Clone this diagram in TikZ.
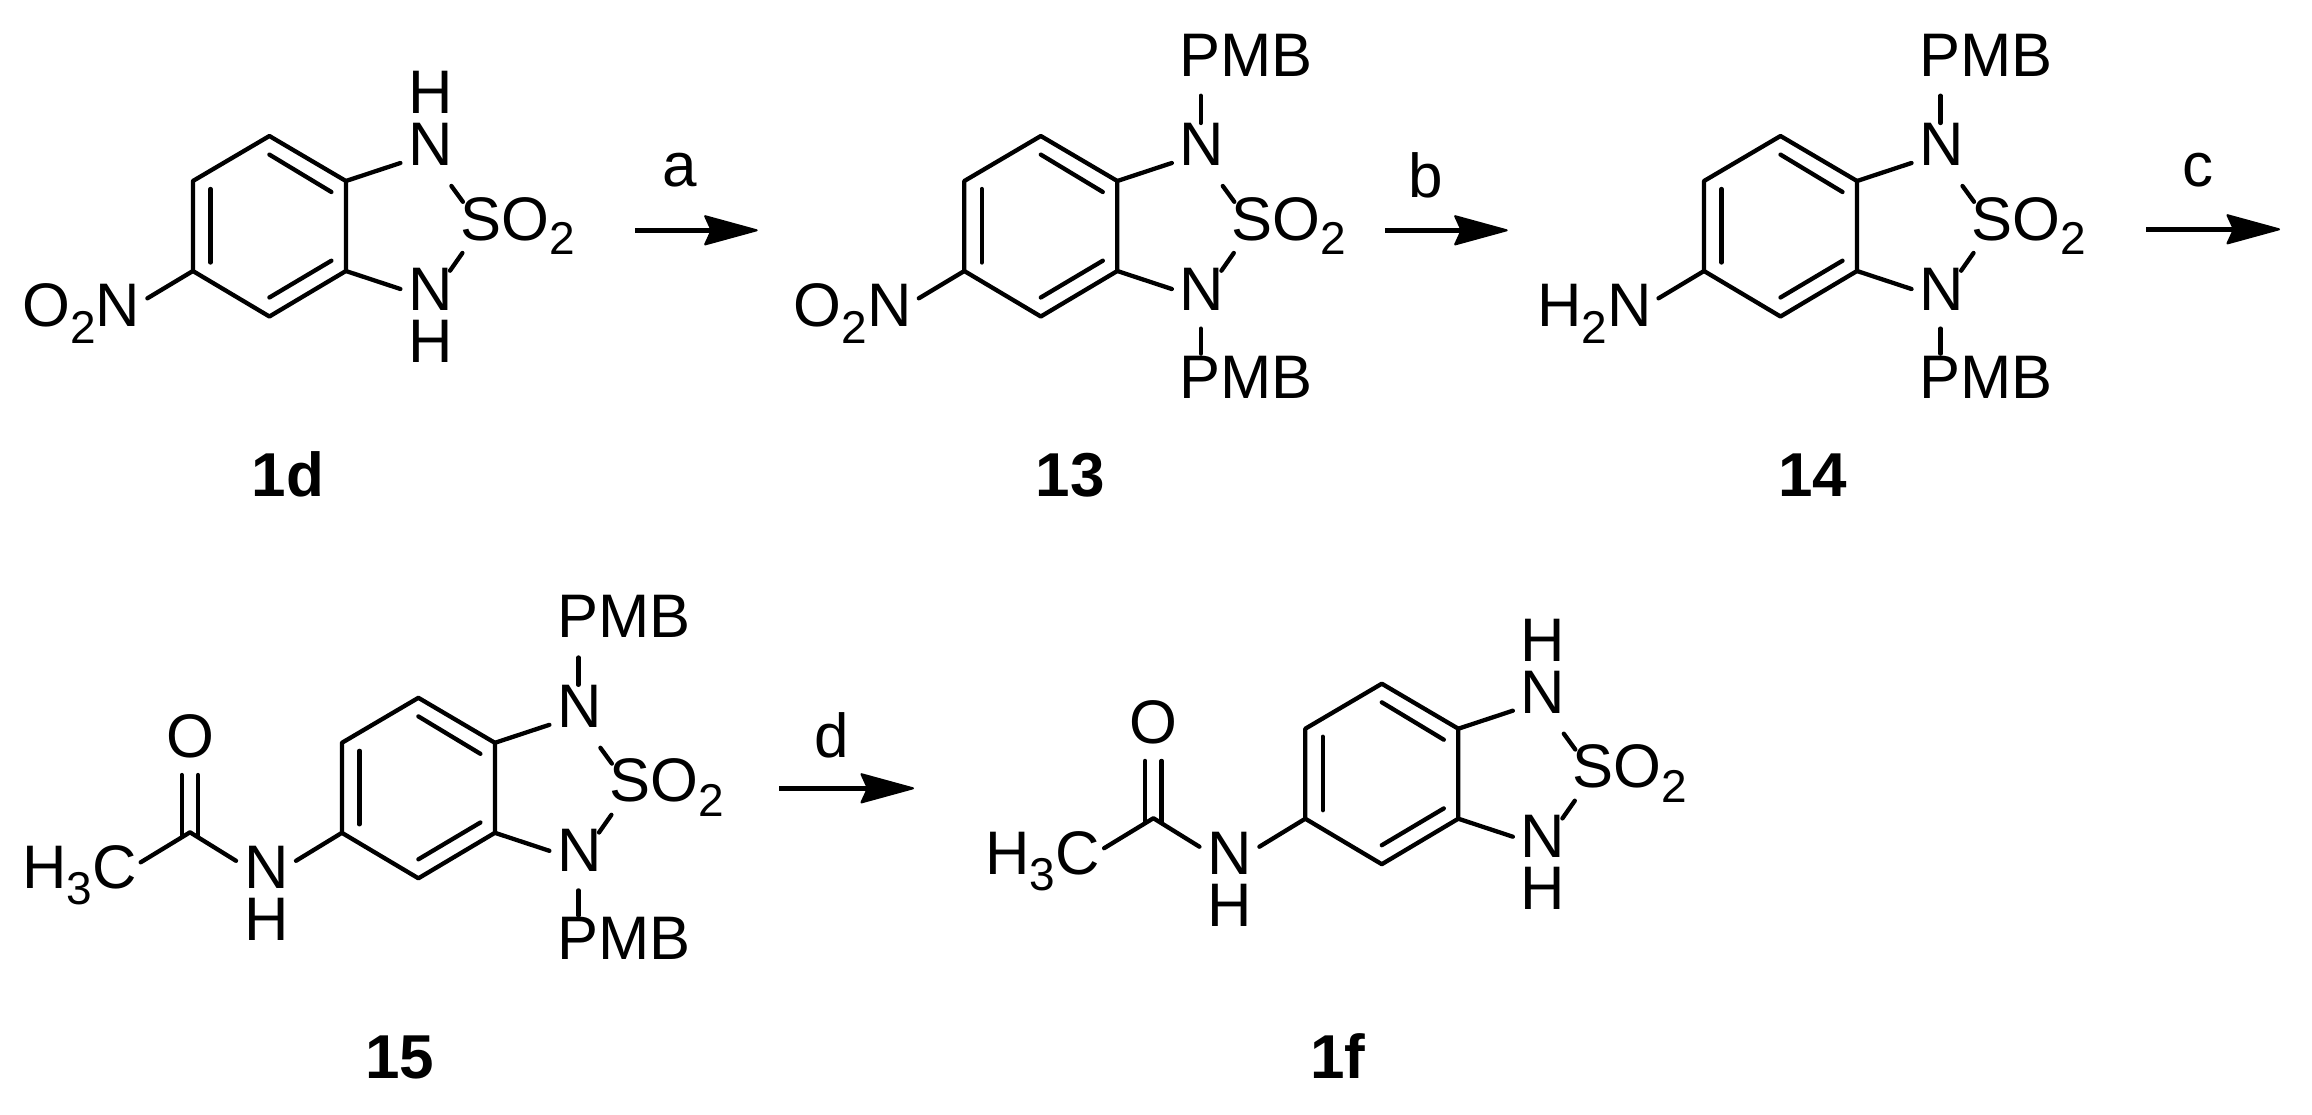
\documentclass[tikz,border=0pt]{standalone}
\usepackage{fontspec}
\setmainfont{Liberation Sans}
\usetikzlibrary{arrows.meta}
\newcommand{\subdigit}[2][16.5pt]{\raisebox{-#1}{\fontsize{46}{46}\selectfont #2}}
\tikzset{
  x=1pt,y=-1pt,
  bondline/.style={line width=4.3pt,line cap=round,line join=round,black},
  atomlabel/.style={inner sep=0pt,outer sep=0pt,font=\fontsize{61.5}{62}\selectfont},
  cmpdlabel/.style={inner sep=0pt,outer sep=0pt,anchor=base,font=\fontsize{62}{62}\selectfont\bfseries},
  reagent/.style={inner sep=0pt,outer sep=0pt,anchor=base,font=\fontsize{62}{62}\selectfont},
  rxnarrow/.style={line width=5pt,-{Stealth[length=57pt,width=31pt,inset=7pt,round,line width=2pt]}}
}
% ring + five-membered-ring core; #1 prefix, #2 x, #3 y of top ring atom
\newcommand{\corering}[3]{%
  \begin{scope}[shift={(#2,#3)}]
    \coordinate (#1t) at (0,0);
    \coordinate (#1ur) at (76.5,45);
    \coordinate (#1lr) at (76.5,135);
    \coordinate (#1b) at (0,180.5);
    \coordinate (#1ll) at (-76.5,135);
    \coordinate (#1ul) at (-76.5,45);
    \draw[bondline] (#1t) -- (#1ur) -- (#1lr) -- (#1b) -- (#1ll) -- (#1ul) -- cycle;
    \coordinate (#1i1) at (0,18.6); \coordinate (#1i2) at (62,56);
    \coordinate (#1i3) at (62,124.7); \coordinate (#1i4) at (0,161.5);
    \coordinate (#1i5) at (-59,53); \coordinate (#1i6) at (-59,126.5);
    \draw[bondline] (#1i1) -- (#1i2);
    \draw[bondline] (#1i3) -- (#1i4);
    \draw[bondline] (#1i5) -- (#1i6);
    \node[atomlabel,anchor=base] (#1Nu) at (161,29.7) {N};
    \node[atomlabel,anchor=base] (#1Nd) at (161,174) {N};
    \node[atomlabel,anchor=base west] (#1S) at (191,104) {SO\subdigit[14.5pt]{2}};
    \coordinate (#1a1) at (131,27); \coordinate (#1a2) at (131,153);
    \coordinate (#1a3) at (182,50); \coordinate (#1a4) at (193.5,65.8);
    \coordinate (#1a5) at (193,117); \coordinate (#1a6) at (180.6,134.7);
    \draw[bondline] (#1ur) -- (#1a1);
    \draw[bondline] (#1lr) -- (#1a2);
    \draw[bondline] (#1a3) -- (#1a4);
    \draw[bondline] (#1a5) -- (#1a6);
  \end{scope}}
\newcommand{\nhcaps}[3]{%
  \begin{scope}[shift={(#2,#3)}]
    \node[atomlabel,anchor=base] (#1Hu) at (161,-22.6) {H};
    \node[atomlabel,anchor=base] (#1Hd) at (161,226) {H};
  \end{scope}}
\newcommand{\pmbcaps}[3]{%
  \begin{scope}[shift={(#2,#3)}]
    \node[atomlabel,anchor=base west] (#1Pu) at (138.7,-60) {PMB};
    \node[atomlabel,anchor=base west] (#1Pd) at (138.7,262) {PMB};
    \coordinate (#1p1) at (160,-40.3); \coordinate (#1p2) at (160,-13);
    \coordinate (#1p3) at (160,192.6); \coordinate (#1p4) at (160,217.6);
    \draw[bondline] (#1p1) -- (#1p2);
    \draw[bondline] (#1p3) -- (#1p4);
  \end{scope}}
\newcommand{\leftgroup}[4]{% #4 text
  \begin{scope}[shift={(#2,#3)}]
    \node[atomlabel,anchor=base east] (#1X) at (-129,190.7) {#4};
    \coordinate (#1x1) at (-122,162.3);
    \draw[bondline] (#1ll) -- (#1x1);
  \end{scope}}
\newcommand{\acetamide}[3]{%
  \begin{scope}[shift={(#2,#3)}]
    \node[atomlabel,anchor=base] (#1N) at (-151.7,190.5) {N};
    \node[atomlabel,anchor=base] (#1H) at (-151.7,242.4) {H};
    \node[atomlabel,anchor=base] (#1O) at (-228.4,59.9) {O};
    \node[atomlabel,anchor=base west] (#1Me) at (-396.3,190.5) {H\subdigit{3}C};
    \coordinate (#1c) at (-228.4,134.5);
    \coordinate (#1c1) at (-122.4,163);
    \coordinate (#1c2) at (-182.4,163);
    \coordinate (#1c3) at (-277.7,164.5);
    \coordinate (#1d1) at (-236.7,77.2); \coordinate (#1d2) at (-236.7,138);
    \coordinate (#1d3) at (-220.3,77.2); \coordinate (#1d4) at (-220.3,138);
    \draw[bondline] (#1ll) -- (#1c1);
    \draw[bondline] (#1c2) -- (#1c) -- (#1c3);
    \draw[bondline] (#1d1) -- (#1d2);
    \draw[bondline] (#1d3) -- (#1d4);
  \end{scope}}
\begin{document}
\begin{tikzpicture}
\useasboundingbox (0,0) rectangle (2312,1114);
% 1d
\corering{A}{269.4}{136}
\nhcaps{A}{269.4}{136}
\leftgroup{A}{269.4}{136}{O\subdigit{2}N}
\node[cmpdlabel] (lab1d) at (288,496) {1d};
% 13
\corering{B}{1040.8}{136}
\pmbcaps{B}{1040.8}{136}
\leftgroup{B}{1040.8}{136}{O\subdigit{2}N}
\node[cmpdlabel] (lab13) at (1070,496) {13};
% 14
\corering{C}{1780.5}{136}
\pmbcaps{C}{1780.5}{136}
\leftgroup{C}{1780.5}{136}{H\subdigit{2}N}
\node[cmpdlabel] (lab14) at (1812.5,496) {14};
% 15
\corering{D}{418.4}{697.8}
\pmbcaps{D}{418.4}{697.8}
\acetamide{D}{418.4}{697.8}
\node[cmpdlabel] (lab15) at (400,1078) {15};
% 1f
\corering{E}{1381.8}{683.7}
\nhcaps{E}{1381.8}{683.7}
\acetamide{E}{1381.8}{683.7}
\node[cmpdlabel] (lab1f) at (1338,1078) {1f};
% arrows
\coordinate (a1) at (635,230.3); \coordinate (a2) at (757.7,230.3);
\coordinate (b1) at (1385,230.3); \coordinate (b2) at (1507.7,230.3);
\coordinate (c1) at (2146,229.3); \coordinate (c2) at (2280,229.3);
\coordinate (d1) at (779,788.3); \coordinate (d2) at (914,788.3);
\draw[rxnarrow] (a1) -- (a2);
\draw[rxnarrow] (b1) -- (b2);
\draw[rxnarrow] (c1) -- (c2);
\draw[rxnarrow] (d1) -- (d2);
\node[reagent] (la) at (680,186) {a};
\node[reagent] (lb) at (1426,197) {b};
\node[reagent] (lc) at (2198,186) {c};
\node[reagent] (ld) at (832,757) {d};
\end{tikzpicture}
\end{document}
